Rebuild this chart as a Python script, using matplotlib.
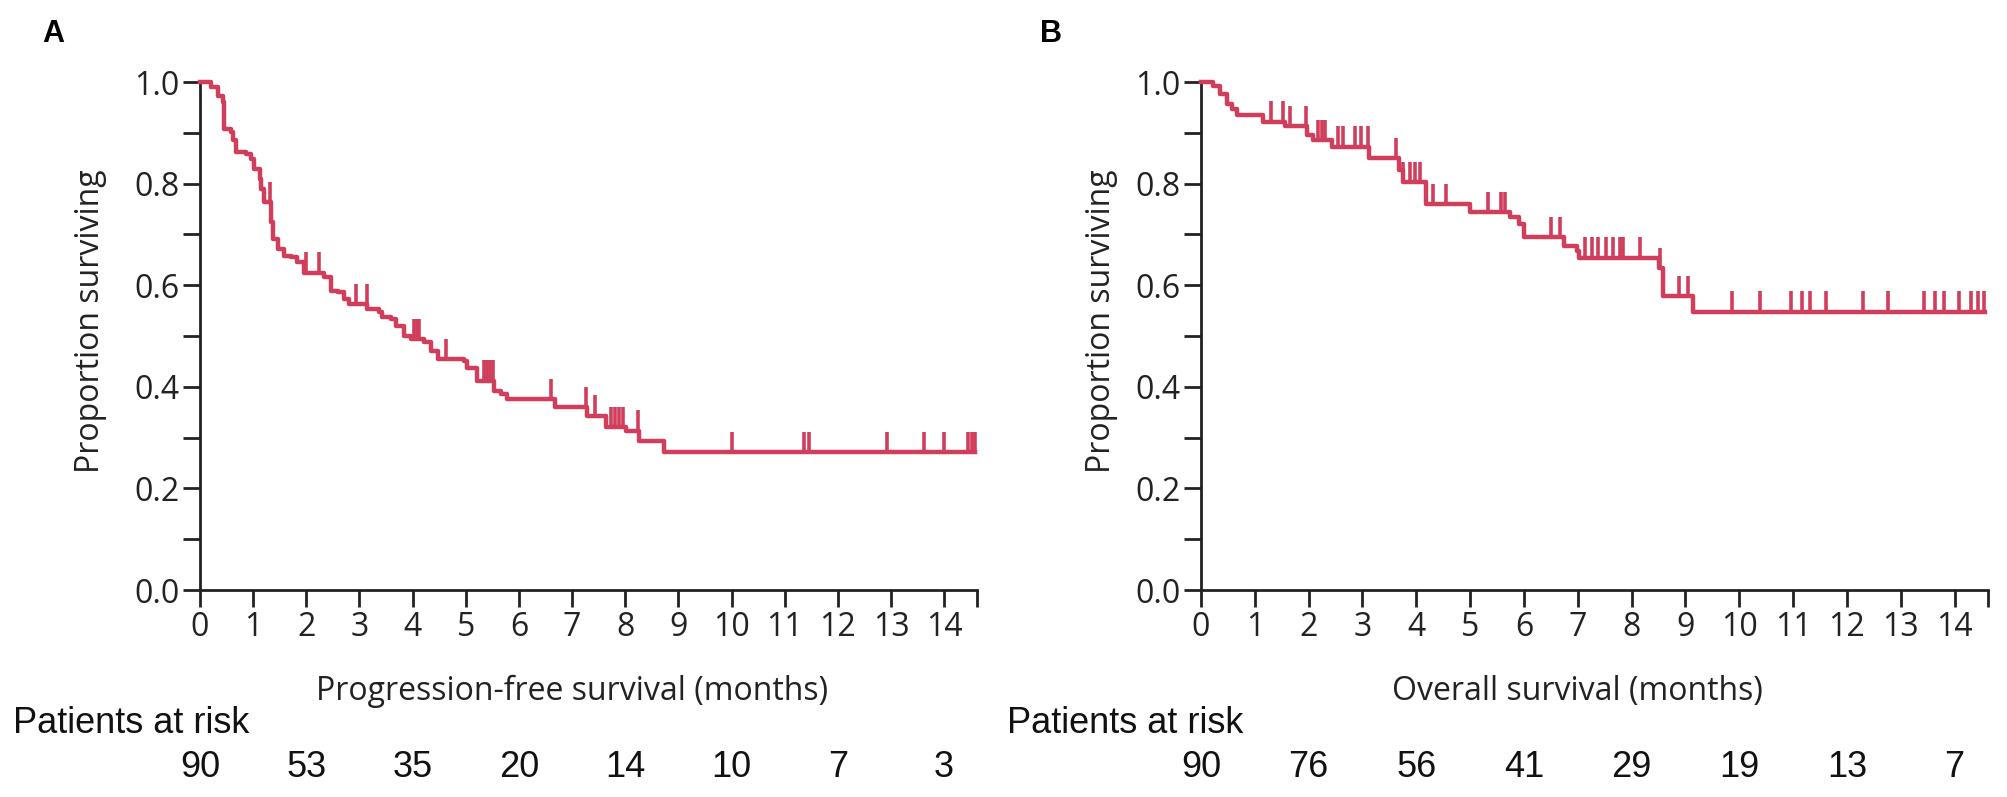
import numpy as np
import matplotlib
matplotlib.use('Agg')
import matplotlib.pyplot as plt
import matplotlib.transforms as mtransforms

plt.rcParams['font.family'] = ['Open Sans', 'DejaVu Sans']

# PFS curve (time in months, survival after the step)
pfs_times = [0, 0.21, 0.33, 0.43, 0.46, 0.58, 0.63, 0.68, 0.86, 0.96, 1.02, 1.12, 1.15,
             1.21, 1.33, 1.37, 1.46, 1.58, 1.71, 1.83, 1.96, 2.34, 2.46, 2.59, 2.7, 2.8,
             3.15, 3.37, 3.43, 3.59, 3.68, 3.84, 3.97, 4.22, 4.34, 4.47, 4.97, 5.03, 5.22,
             5.53, 5.66, 5.78, 6.68, 7.28, 7.63, 8.01, 8.25, 8.73]
pfs_surv = [1.0, 0.99, 0.973, 0.96, 0.907, 0.901, 0.885, 0.862, 0.858, 0.848, 0.829, 0.809, 0.79,
            0.763, 0.724, 0.691, 0.671, 0.658, 0.655, 0.645, 0.625, 0.616, 0.589, 0.586, 0.573, 0.563,
            0.553, 0.547, 0.537, 0.533, 0.52, 0.501, 0.494, 0.488, 0.471, 0.455, 0.451, 0.438, 0.412,
            0.392, 0.386, 0.376, 0.36, 0.343, 0.32, 0.314, 0.294, 0.271]
pfs_end = 14.59
pfs_censor = [1.31, 1.99, 2.24, 2.93, 3.14, 4.03, 4.08, 4.12, 4.62, 5.34, 5.4, 5.46, 5.52,
              6.6, 7.26, 7.44, 7.73, 7.8, 7.88, 7.95, 8.24, 10.01, 11.36, 11.45, 12.93,
              13.62, 13.99, 14.45, 14.52, 14.58]

# OS curve
os_times = [0, 0.23, 0.35, 0.48, 0.57, 0.66, 1.16, 1.57, 1.97, 2.09, 2.44, 3.13, 3.68, 3.75,
            4.18, 5.0, 5.75, 5.9, 6.0, 6.75, 6.98, 7.03, 8.5, 8.58, 9.15]
os_surv = [1.0, 0.992, 0.976, 0.956, 0.946, 0.936, 0.922, 0.913, 0.896, 0.886, 0.873, 0.85, 0.826, 0.803,
           0.76, 0.744, 0.734, 0.72, 0.694, 0.677, 0.667, 0.654, 0.634, 0.578, 0.548]
os_end = 14.56
os_censor = [1.31, 1.53, 1.65, 1.96, 2.18, 2.24, 2.3, 2.55, 2.64, 2.86, 2.98, 3.11, 3.63, 3.76,
             3.88, 3.97, 4.07, 4.31, 4.56, 5.34, 5.58, 5.65, 6.51, 6.67, 7.13, 7.26, 7.38, 7.53,
             7.65, 7.78, 7.84, 8.15, 8.53, 8.88, 9.05, 9.86, 10.38, 10.97, 11.16, 11.31, 11.62,
             12.30, 12.76, 13.44, 13.63, 13.81, 14.09, 14.31, 14.43, 14.55]

# patients at risk
risk_times = [0, 2, 4, 6, 8, 10, 12, 14]
pfs_risk = [90, 53, 35, 20, 14, 10, 7, 3]
os_risk = [90, 76, 56, 41, 29, 19, 13, 7]

xticks = list(range(0, 15))
xmax = 14.62
red = '#D13E5B'
dark = '#222222'
arial = ['Liberation Sans', 'DejaVu Sans']


def km_panel(ax, times, surv, end, censor, risk, xlabel, ylab_x, risk_x):
    t = list(times) + [end]
    s = list(surv) + [surv[-1]]
    ax.step(t, s, where='post', color=red, lw=3.2, clip_on=False, zorder=3)

    # censor marks pointing up from the curve
    tt = np.array(times)
    lev = [surv[np.searchsorted(tt, c, side='right') - 1] for c in censor]
    ax.vlines(censor, lev, np.array(lev) + 0.04, color=red, lw=2.6, clip_on=False, zorder=3)

    ax.set_xlim(0, xmax)
    ax.set_ylim(0, 1.0)
    ax.set_xticks(xticks + [xmax])
    ax.set_xticklabels([str(v) for v in xticks] + [''])
    yt = np.round(np.arange(0, 1.01, 0.1), 1)
    ax.set_yticks(yt)
    ax.set_yticklabels([f'{v:.1f}' if i % 2 == 0 else '' for i, v in enumerate(yt)])

    for side in ['top', 'right']:
        ax.spines[side].set_visible(False)
    for side in ['left', 'bottom']:
        ax.spines[side].set_linewidth(2)
        ax.spines[side].set_color(dark)
    ax.tick_params(axis='both', direction='out', length=12, width=2, color=dark,
                   labelsize=23, labelcolor=dark, pad=3)

    ax.set_ylabel('Proportion surviving', fontsize=23, color=dark)
    ax.yaxis.set_label_coords(ylab_x, 0.53)

    trans = mtransforms.blended_transform_factory(ax.transData, ax.transAxes)
    ax.text(7, -0.2, xlabel, transform=trans, ha='center', va='center',
            fontsize=23, color=dark)

    # risk table
    ax.text(risk_x, -0.262, 'Patients at risk', transform=ax.transAxes, ha='left',
            va='center', fontsize=26, color='#111111', family=arial)
    for x, n in zip(risk_times, risk):
        ax.text(x, -0.35, str(n), transform=trans, ha='center', va='center',
                fontsize=26, color='#111111', family=arial)


fig = plt.figure(figsize=(20.08, 7.97), dpi=100)
ax1 = fig.add_axes([0.0996, 0.2597, 0.3870, 0.6374])
ax2 = fig.add_axes([0.5981, 0.2597, 0.3919, 0.6374])

km_panel(ax1, pfs_times, pfs_surv, pfs_end, pfs_censor, pfs_risk,
         'Progression-free survival (months)', -0.12, -0.241)
km_panel(ax2, os_times, os_surv, os_end, os_censor, os_risk,
         'Overall survival (months)', -0.105, -0.246)

fig.text(0.021, 0.957, 'A', fontsize=22, fontweight='bold', va='center', family=arial)
fig.text(0.518, 0.957, 'B', fontsize=22, fontweight='bold', va='center', family=arial)

fig.savefig('out.png', dpi=100)
